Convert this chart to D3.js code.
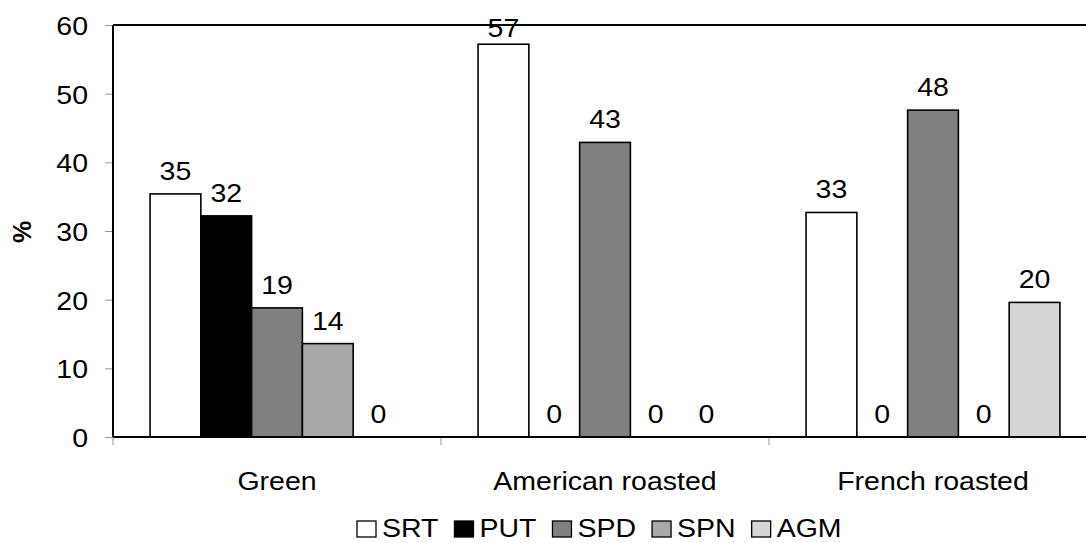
<!DOCTYPE html>
<html>
<head>
<meta charset="utf-8">
<script src="https://cdn.jsdelivr.net/npm/d3@7"></script>
<style>
  html, body { margin: 0; padding: 0; background: #fff; }
  svg { display: block; }
  text { font-family: "Liberation Sans", Arial, sans-serif; fill: #000; }
</style>
</head>
<body>
<svg id="chart" width="1086" height="543"></svg>
<script>
// ---- data ----
const groups = ["Green", "American roasted", "French roasted"];
const series = ["SRT", "PUT", "SPD", "SPN", "AGM"];
const green    = [35.4, 32.2, 18.8, 13.6, 0];
const american = [57.2, 0, 42.9, 0, 0];
const french   = [32.7, 0, 47.6, 0, 19.6];
const yTicks = [0, 10, 20, 30, 40, 50, 60];
const colors = ["#ffffff", "#000000", "#808080", "#a9a9a9", "#d6d6d6"];

const values = [green, american, french];

// ---- layout ----
const svg = d3.select("#chart");
const plotLeft = 113, plotTop = 25, plotBottom = 437, groupW = 328;
const sx = 1.14;       // horizontal stretch of the original's text
const fs = 25;

const x0 = d3.scaleBand().domain(groups).range([plotLeft, plotLeft + groups.length * groupW]).padding(0);
const x1 = d3.scaleBand().domain(series).range([0, x0.bandwidth()]).paddingInner(0).paddingOuter(0.73);
const y = d3.scaleLinear().domain([0, 60]).range([plotBottom, plotTop]);

function stretchText(sel, x, yy, anchor) {
  return sel.attr("x", 0).attr("y", 0)
    .attr("transform", `translate(${x},${yy}) scale(${sx},1)`)
    .attr("text-anchor", anchor)
    .style("font-size", fs + "px");
}

// bars
const gGroups = svg.append("g").selectAll("g").data(groups).join("g")
  .attr("transform", d => `translate(${x0(d)},0)`);

gGroups.each(function(g, gi) {
  const sel = d3.select(this);
  const vals = values[gi].map((v, i) => ({ s: series[i], v, c: colors[i] }));
  sel.selectAll("rect").data(vals.filter(d => d.v > 0)).join("rect")
    .attr("x", d => x1(d.s))
    .attr("y", d => y(d.v))
    .attr("width", x1.bandwidth())
    .attr("height", d => y(0) - y(d.v))
    .attr("fill", d => d.c)
    .attr("stroke", "#000")
    .attr("stroke-width", 1.6);
  sel.selectAll("text.val").data(vals).join("text")
    .attr("class", "val")
    .each(function(d) {
      stretchText(d3.select(this), x1(d.s) + x1.bandwidth() / 2, Math.max(y(d.v) - 14, plotTop + 12), "middle");
    })
    .text(d => Math.round(d.v));
});

// y axis
const yAxis = svg.append("g")
  .attr("transform", `translate(${plotLeft},0)`)
  .call(d3.axisLeft(y).tickValues(yTicks).tickSize(8).tickFormat(d3.format("d")));
yAxis.select(".domain").remove();
yAxis.selectAll(".tick line").attr("stroke", "#999").attr("stroke-width", 1);
yAxis.selectAll(".tick text")
  .attr("dy", null)
  .attr("dominant-baseline", "central")
  .attr("x", 0)
  .attr("transform", `translate(-25,1) scale(${sx},1)`)
  .attr("text-anchor", "end")
  .style("font-size", fs + "px")
  .style("font-family", '"Liberation Sans", Arial, sans-serif');

// frame lines: left axis, top border, bottom axis
svg.append("line").attr("x1", plotLeft).attr("x2", plotLeft).attr("y1", plotTop).attr("y2", plotBottom)
  .attr("stroke", "#000").attr("stroke-width", 2);
svg.append("line").attr("x1", plotLeft).attr("x2", x0.range()[1]).attr("y1", plotTop).attr("y2", plotTop)
  .attr("stroke", "#000").attr("stroke-width", 2);
svg.append("line").attr("x1", plotLeft).attr("x2", x0.range()[1]).attr("y1", plotBottom).attr("y2", plotBottom)
  .attr("stroke", "#000").attr("stroke-width", 2);

// x boundary ticks
const bounds = groups.map(g => x0(g)).concat([x0.range()[1]]);
svg.append("g").selectAll("line").data(bounds).join("line")
  .attr("x1", d => d).attr("x2", d => d)
  .attr("y1", plotBottom + 1).attr("y2", plotBottom + 8)
  .attr("stroke", "#999").attr("stroke-width", 1);

// category labels
svg.append("g").selectAll("text").data(groups).join("text")
  .each(function(d) {
    stretchText(d3.select(this), x0(d) + x0.bandwidth() / 2, 490, "middle");
  })
  .text(d => d);

// y title
svg.append("text")
  .attr("transform", "translate(31,232) rotate(-90)")
  .attr("text-anchor", "middle")
  .style("font-size", "25px")
  .style("font-weight", "bold")
  .text("%");

// legend (laid out by measured text widths)
const legend = svg.append("g");
let lx = 357;
series.forEach((s, i) => {
  const item = legend.append("g").attr("transform", `translate(${lx},0)`);
  item.append("rect")
    .attr("x", 0).attr("y", 521)
    .attr("width", 19).attr("height", 16)
    .attr("fill", colors[i])
    .attr("stroke", "#000").attr("stroke-width", 1.3);
  const t = item.append("text").text(s);
  stretchText(t, 25, 537, "start");
  const w = t.node().getComputedTextLength() * sx;
  lx += 25 + w + 16;
});
</script>
</body>
</html>
